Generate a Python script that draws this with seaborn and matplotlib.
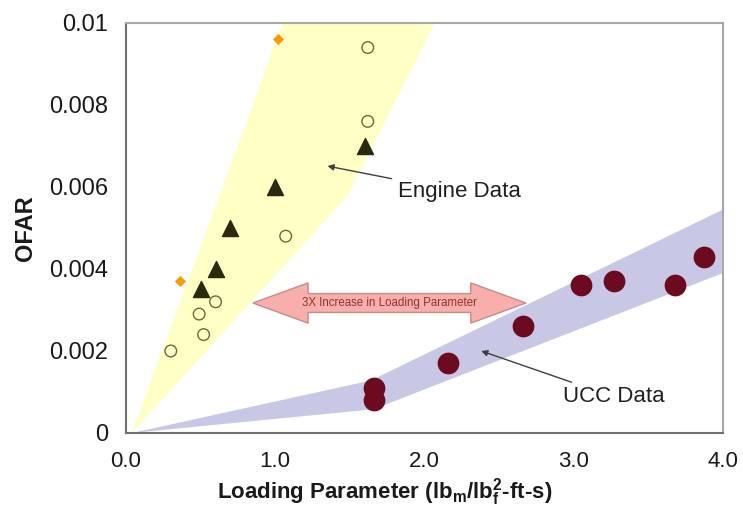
import numpy as np
import pandas as pd
import matplotlib
matplotlib.use("Agg")
import matplotlib.pyplot as plt
from matplotlib.patches import Polygon
from matplotlib.ticker import MultipleLocator, FuncFormatter
import seaborn as sns

# ---------------- data ----------------
engine_open_x = [0.30, 0.49, 0.52, 0.60, 1.07, 1.62, 1.62]
engine_open_y = [0.0020, 0.0029, 0.0024, 0.0032, 0.0048, 0.0076, 0.0094]
engine_tri_x = [0.50, 0.60, 0.70, 1.00, 1.60]
engine_tri_y = [0.0035, 0.0040, 0.0050, 0.0060, 0.0070]
engine_dia_x = [0.36, 1.02]
engine_dia_y = [0.0037, 0.0096]
ucc_x = [1.66, 1.66, 2.16, 2.66, 3.05, 3.27, 3.68, 3.87]
ucc_y = [0.0011, 0.0008, 0.0017, 0.0026, 0.0036, 0.0037, 0.0036, 0.0043]

engine_band_x = [0.04, 1.05, 2.07, 1.48]
engine_band_y = [0.0, 0.0100, 0.0100, 0.00576]
ucc_band_x = [0.04, 1.64, 4.00, 4.00, 1.66]
ucc_band_y = [0.0, 0.00128, 0.00545, 0.00390, 0.00058]

x_ticks = [0.0, 1.0, 2.0, 3.0, 4.0]
y_ticks = [0.0, 0.002, 0.004, 0.006, 0.008, 0.010]

# ---------------- style ----------------
sns.set_style("white")
plt.rcParams['font.family'] = ['Liberation Sans', 'DejaVu Sans']
plt.rcParams['mathtext.fontset'] = 'custom'
plt.rcParams['mathtext.bf'] = 'Liberation Sans:bold'
plt.rcParams['mathtext.rm'] = 'Liberation Sans'

fig = plt.figure(figsize=(7.43, 5.14), dpi=100)
ax = fig.add_axes([0.1696, 0.1576, 0.8034, 0.7977])

# shaded regions
ax.add_patch(Polygon(np.column_stack([engine_band_x, engine_band_y]), closed=True,
                     facecolor='#ffffc6', edgecolor='none', zorder=0))
ax.add_patch(Polygon(np.column_stack([ucc_band_x, ucc_band_y]), closed=True,
                     facecolor='#c8c8e6', edgecolor='none', zorder=0))

# double arrow annotation
xa0, xa1, yc = 0.85, 2.68, 0.00317
sh, hh, hl = 0.00023, 0.00049, 0.37
arrow_pts = [(xa0, yc), (xa0 + hl, yc + hh), (xa0 + hl, yc + sh), (xa1 - hl, yc + sh),
             (xa1 - hl, yc + hh), (xa1, yc), (xa1 - hl, yc - hh), (xa1 - hl, yc - sh),
             (xa0 + hl, yc - sh), (xa0 + hl, yc - hh)]
ax.add_patch(Polygon(arrow_pts, closed=True, facecolor='#f8aeab', edgecolor='#c98a88',
                     lw=1.0, zorder=1))
ax.text((xa0 + xa1) / 2, yc, "3X Increase in Loading Parameter", ha='center', va='center',
        fontsize=8.3, color='#8a3535', zorder=2)

# data
sns.scatterplot(x=engine_open_x, y=engine_open_y, ax=ax, marker='o', s=70,
                facecolor='none', edgecolor='#6b6b35', linewidth=1.0, zorder=3)
sns.scatterplot(x=engine_tri_x, y=engine_tri_y, ax=ax, marker='^', s=135,
                color='#2a2a10', edgecolor='#2a2a10', zorder=3)
sns.scatterplot(x=engine_dia_x, y=engine_dia_y, ax=ax, marker='D', s=28,
                color='#ff9900', edgecolor='#ff9900', zorder=3)
sns.scatterplot(x=ucc_x, y=ucc_y, ax=ax, marker='o', s=210,
                color='#6c0a20', edgecolor='#6c0a20', zorder=3)

# text annotations
ax.annotate("Engine Data", xy=(1.35, 0.00651), xytext=(1.82, 0.00588),
            fontsize=16, color='#202020', va='center', ha='left',
            arrowprops=dict(arrowstyle='-|>', color='#404040', lw=1.0, mutation_scale=9,
                            shrinkA=2, shrinkB=0))
ax.annotate("UCC Data", xy=(2.38, 0.0020), xytext=(2.93, 0.00088),
            fontsize=16, color='#202020', va='center', ha='left',
            arrowprops=dict(arrowstyle='-|>', color='#404040', lw=1.0, mutation_scale=9,
                            shrinkA=2, shrinkB=0))

# axes
ax.set_xlim(0, 4.0)
ax.set_ylim(0, 0.010)
ax.set_xticks(x_ticks)
ax.set_yticks(y_ticks)
ax.xaxis.set_minor_locator(MultipleLocator(0.2))
ax.yaxis.set_minor_locator(MultipleLocator(0.001))
ax.xaxis.set_major_formatter(FuncFormatter(lambda v, p: f"{v:.1f}"))
ax.yaxis.set_major_formatter(FuncFormatter(lambda v, p: f"{v:g}"))
ax.tick_params(axis='both', which='both', direction='in', color='#707070', width=1.0)
ax.tick_params(axis='both', which='major', length=5)
ax.tick_params(axis='both', which='minor', length=5)
ax.tick_params(axis='x', which='major', labelsize=16, pad=13, labelcolor='#1a1a1a')
ax.tick_params(axis='y', which='major', labelsize=17, pad=13, labelcolor='#1a1a1a')

for side in ['left', 'bottom']:
    ax.spines[side].set_color('#707070')
    ax.spines[side].set_linewidth(1.5)
for side in ['top', 'right']:
    ax.spines[side].set_color('#a8a8a8')
    ax.spines[side].set_linewidth(1.5)

ax.set_ylabel("OFAR", fontsize=17, fontweight='bold', color='#1a1a1a')
ax.yaxis.set_label_coords(-0.168, 0.5)
ax.yaxis.label.set_va('center')
ax.set_xlabel(r"Loading Parameter (lb$_\mathbf{m}$/lb$_\mathbf{f}^\mathbf{2}$-ft-s)",
              fontsize=16, fontweight='bold', color='#1a1a1a')
ax.xaxis.set_label_coords(0.434, -0.143)
ax.xaxis.label.set_va('center')

fig.savefig("out.png", dpi=100)
